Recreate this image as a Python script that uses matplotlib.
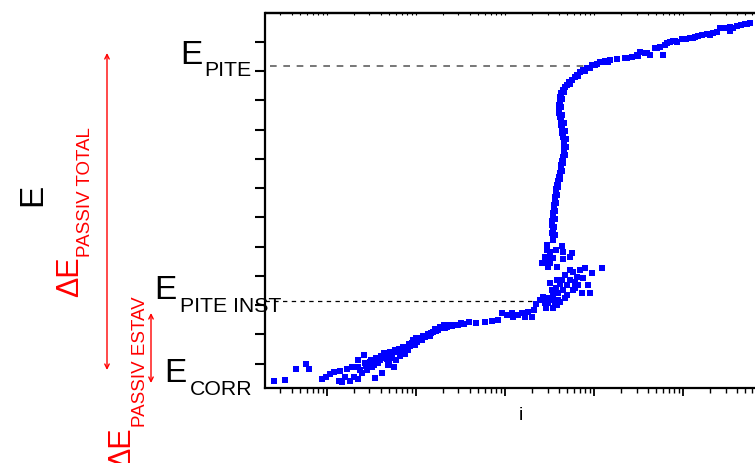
import numpy as np
import matplotlib
matplotlib.use("Agg")
import matplotlib.pyplot as plt
from matplotlib.ticker import LogLocator, NullFormatter, FixedLocator

plt.rcParams['font.family'] = ['Liberation Sans', 'DejaVu Sans']

# Polarisation curve: log10 of current density and potential (mV)
log_i = [
    # cathodic / active region
    -8.60, -8.47, -8.35, -8.24, -8.20, -8.06, -8.01, -7.97, -7.92, -7.85,
    -7.87, -7.83, -7.80, -7.78, -7.74, -7.72, -7.70, -7.65, -7.65, -7.65,
    -7.61, -7.58, -7.57, -7.55, -7.53, -7.52, -7.49, -7.46, -7.45, -7.43,
    -7.40, -7.38, -7.36, -7.35, -7.33, -7.30, -7.29, -7.25, -7.22, -7.20,
    -7.18, -7.15, -7.12, -7.09, -7.07, -7.04, -7.01, -6.99, -6.96, -6.93,
    -6.90, -6.87, -6.84, -6.81, -6.78, -6.75, -6.71, -6.67, -6.65, -6.60,
    -6.56, -6.46, -6.40, -6.33, -6.22, -6.15, -6.08, -6.03, -5.98, -5.92,
    -5.91, -5.85, -5.81, -5.78, -5.74, -5.70, -5.67, -5.65,
    -7.27, -7.24, -7.19, -7.16, -7.11, -7.08, -7.03, -7.00, -6.97, -6.92,
    -6.88, -6.83, -6.79, -6.73, -6.69, -6.63, -6.53, -6.49, -7.63, -7.56,
    -7.51, -7.47, -7.44, -7.39, -7.34, -7.31, -7.27,
    # breakdown cluster
    -5.61, -5.57, -5.54, -5.52, -5.46, -5.44, -5.40, -5.42, -5.38, -5.46,
    -5.53, -5.46, -5.30, -5.47, -5.35, -5.21, -5.13, -5.04, -5.49, -5.30,
    -5.18, -5.07, -5.42, -5.33, -5.19, -5.27, -5.16, -5.10, -4.91, -5.02,
    -5.36, -5.24, -5.58, -5.52, -5.42, -5.55, -5.46, -5.35, -5.27, -5.53,
    -5.35, -5.25, -5.36, -5.46, -5.53, -5.49,
    -5.43, -5.38, -5.27, -5.21, -5.12, -5.40, -5.55, -5.33, -5.24, -5.52,
    -5.49, -5.43, -5.55,
    # passive plateau
    -5.46, -5.47, -5.46, -5.47, -5.47, -5.46, -5.46, -5.45, -5.45, -5.44,
    -5.44, -5.43, -5.43, -5.42, -5.40, -5.39, -5.38, -5.37, -5.37, -5.36,
    -5.35, -5.34, -5.34, -5.34, -5.34, -5.35, -5.36, -5.36, -5.37, -5.37,
    -5.38, -5.39, -5.39, -5.39, -5.38, -5.38, -5.37, -5.35, -5.33, -5.30,
    -5.28, -5.25, -5.21, -5.19, -5.16, -5.12, -5.08, -5.02, -4.99, -4.93,
    -5.44, -5.45, -5.44, -5.44, -5.43, -5.42, -5.40, -5.38, -5.36, -5.35,
    -5.33, -5.31, -5.31, -5.33, -5.34, -5.36, -5.37, -5.36, -5.34, -5.27,
    -5.18, -5.10, -5.04, -4.97, -4.88,
    # transpassive branch
    -4.90, -4.84, -4.82, -4.74, -4.65, -4.63, -4.57, -4.52, -4.51, -4.48,
    -4.43, -4.40, -4.37, -4.31, -4.29, -4.26, -4.22, -4.20, -4.18, -4.11,
    -4.07, -4.01, -3.92, -3.89, -3.83, -3.73, -3.70, -3.62, -3.58, -3.56,
    -3.51, -3.47, -3.47, -3.39, -3.30, -3.28,
    -4.15, -4.09, -3.97, -3.87, -3.79, -3.66, -3.44, -3.35, -3.25,
]
E_mV = [
    -359, -356, -318, -301, -318, -352, -345, -335, -328, -325,
    -359, -362, -345, -318, -359, -311, -345, -287, -311, -352,
    -332, -270, -297, -321, -304, -294, -311, -349, -280, -297,
    -287, -332, -263, -280, -284, -294, -260, -311, -287, -260,
    -274, -243, -267, -253, -239, -229, -236, -226, -212, -219,
    -209, -198, -205, -192, -188, -185, -178, -178, -174, -171,
    -168, -164, -157, -161, -157, -154, -150, -127, -133, -127,
    -140, -133, -127, -140, -123, -140, -116, -96,
    -270, -253, -250, -256, -243, -233, -219, -212, -219, -205,
    -205, -195, -181, -174, -168, -168, -168, -161, -321, -308,
    -287, -304, -287, -274, -270, -304, -280,
    -82, -72, -109, -92, -109, -89, -82, -99, -89, -82,
    -75, -65, -65, -48, -48, -41, -58, -58, -24, -31,
    -31, -31, -14, 3, -3, 20, 20, 27, 27, 10,
    -14, 14, 44, 31, 31, 65, 61, 58, 65, 89,
    82, 79, 102, 123, 106, 44,
    -41, -27, -14, -21, -7, -58, -92, -75, -48, 61,
    82, 89, 48,
    133, 147, 161, 174, 188, 202, 215, 229, 243, 256,
    270, 284, 297, 311, 325, 338, 352, 366, 379, 393,
    407, 420, 434, 448, 461, 475, 489, 503, 516, 530,
    544, 557, 571, 585, 598, 612, 626, 636, 646, 653,
    663, 670, 680, 687, 697, 704, 711, 721, 721, 732,
    140, 167, 195, 222, 250, 277, 304, 332, 359, 386,
    414, 441, 468, 496, 523, 550, 578, 605, 629, 656,
    684, 701, 711, 725, 735,
    732, 732, 738, 742, 745, 745, 749, 756, 752, 766,
    762, 762, 756, 779, 779, 783, 756, 790, 797, 803,
    800, 810, 814, 814, 821, 827, 824, 834, 848, 848,
    848, 838, 851, 855, 862, 862,
    800, 803, 810, 817, 824, 831, 848, 858, 865,
]

# Characteristic potentials (mV) and where their guide lines end (log10 i)
E_pite = 718
E_pite_inst = -86
pite_end = -5.10
pite_inst_end = -5.46

W, H = 755, 463
fig = plt.figure(figsize=(W / 100, H / 100), dpi=100)


def fpos(x, y):
    return x / W, 1 - y / H


ax = fig.add_axes([265 / W, (H - 388) / H, (757 - 265) / W, (388 - 12.5) / H])

i = 10.0 ** np.array(log_i)
ax.scatter(i, E_mV, marker='s', s=20, color='#0000ff', linewidths=0, zorder=3)

ax.set_xscale('log')
ax.set_xlim(10 ** -8.697, 10 ** -3.169)
ax.set_ylim(-383, 900)

ax.hlines(E_pite, 10 ** -8.64, 10 ** pite_end, colors='#606060',
          linestyles=(0, (4, 4)), linewidth=1.2, zorder=2)
ax.hlines(E_pite_inst, 10 ** -8.697, 10 ** pite_inst_end, colors='black',
          linestyles=(0, (3.5, 3.5)), linewidth=0.9, zorder=2)

# axes frame and ticks
ax.spines['right'].set_visible(False)
ax.spines['left'].set_linewidth(1.6)
ax.spines['bottom'].set_linewidth(1.6)
ax.spines['top'].set_linewidth(1.0)

ax.yaxis.set_major_locator(FixedLocator(np.arange(-300, 801, 100)))
ax.tick_params(axis='y', which='major', direction='out', length=7, width=1.5,
               left=True, right=False, labelleft=False)
ax.xaxis.set_major_locator(LogLocator(base=10, numticks=20))
ax.xaxis.set_minor_locator(LogLocator(base=10, subs=np.arange(2, 10), numticks=20))
ax.xaxis.set_major_formatter(NullFormatter())
ax.xaxis.set_minor_formatter(NullFormatter())
ax.tick_params(axis='x', which='major', direction='out', length=6, width=1.3,
               bottom=True, top=False)
ax.tick_params(axis='x', which='minor', direction='out', length=3.5, width=1.0,
               bottom=True, top=False)

# small inward ticks along the top edge
top = ax.secondary_xaxis('top')
top.xaxis.set_major_locator(LogLocator(base=10, numticks=20))
top.xaxis.set_minor_locator(LogLocator(base=10, subs=np.arange(2, 10), numticks=20))
top.xaxis.set_major_formatter(NullFormatter())
top.xaxis.set_minor_formatter(NullFormatter())
top.tick_params(which='both', direction='in', length=2.5, width=0.8)
top.spines['top'].set_linewidth(1.0)

ax.set_xlabel('i', fontsize=14)
ax.xaxis.set_label_coords((521 - 265) / (757 - 265), -(407 - 388) / 375.5)
ax.xaxis.label.set_va('top')

# potential labels
big, sub = 24, 15.3
fig.text(*fpos(180.5, 64), 'E', fontsize=big, va='baseline', ha='left')
fig.text(*fpos(204.5, 76), 'PITE', fontsize=sub, va='baseline', ha='left')
fig.text(*fpos(154.5, 299), 'E', fontsize=big, va='baseline', ha='left')
fig.text(*fpos(179.5, 312), 'PITE INST', fontsize=sub, va='baseline', ha='left')
fig.text(*fpos(164.5, 382), 'E', fontsize=big, va='baseline', ha='left')
fig.text(*fpos(189.5, 395), 'CORR', fontsize=sub, va='baseline', ha='left')

# axis title (rotated)
fig.text(*fpos(41, 206), 'E', fontsize=24, rotation=90, rotation_mode='anchor',
         ha='left', va='baseline')

# passive ranges
red = '#ff0000'
fig.text(*fpos(78, 297), '\u0394E', fontsize=22, color=red, rotation=90,
         rotation_mode='anchor', ha='left', va='baseline')
fig.text(*fpos(90, 257), 'PASSIV TOTAL', fontsize=13.5, color=red, rotation=90,
         rotation_mode='anchor', ha='left', va='baseline')
fig.text(*fpos(130, 468), '\u0394E', fontsize=22, color=red, rotation=90,
         rotation_mode='anchor', ha='left', va='baseline')
fig.text(*fpos(145, 427), 'PASSIV ESTAV', fontsize=13.5, color=red, rotation=90,
         rotation_mode='anchor', ha='left', va='baseline')

for x, y0, y1 in [(107, 53, 370), (151, 313, 383)]:
    fig.add_artist(matplotlib.patches.FancyArrowPatch(
        fpos(x, y1), fpos(x, y0), transform=fig.transFigure,
        arrowstyle='<->', mutation_scale=8, color=red, lw=1.0,
        shrinkA=0, shrinkB=0))

fig.savefig('out.png', dpi=100)
